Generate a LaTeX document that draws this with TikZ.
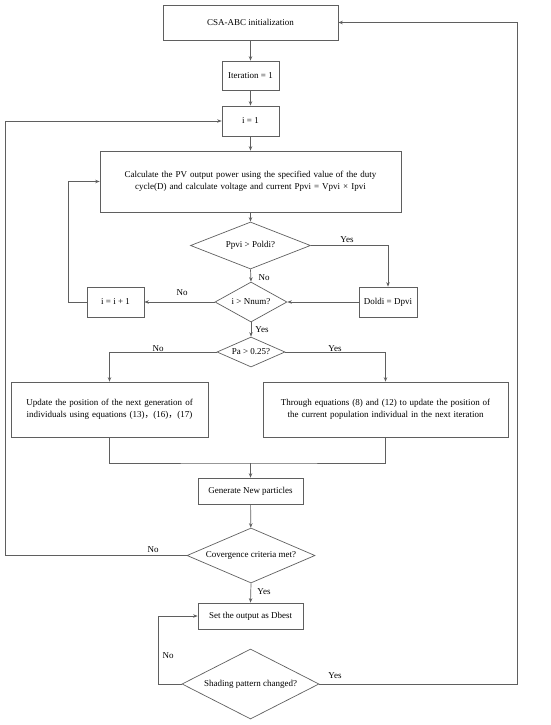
\documentclass[tikz,border=0pt]{standalone}
\usepackage{fontspec}
\setmainfont{Liberation Serif}
\newfontfamily\cjkfont{Noto Sans CJK SC}
\usetikzlibrary{shapes.geometric,arrows.meta,positioning}
\definecolor{ln}{RGB}{95,95,95}
\begin{document}
\begin{tikzpicture}[x=1pt,y=-1pt,
  every node/.style={font=\fontsize{9}{11.5}\selectfont, text=black},
  box/.style={draw=ln, line width=0.7pt, rectangle, inner sep=2pt, align=center},
  dia/.style={draw=ln, line width=0.7pt, diamond, inner sep=0pt, aspect=2, align=center},
  conn/.style={draw=ln, line width=0.7pt},
  arr/.style={conn, -{Stealth[length=4.5pt,width=3.5pt]}},
  lab/.style={inner sep=0pt}
]
\useasboundingbox (0,0) rectangle (550,725);
\node[box, minimum width=175pt, minimum height=35pt] (init) at (250.5,22.5) {CSA-ABC initialization};
\node[box, minimum width=57pt, minimum height=29pt] (iter) at (250.5,75.5) {Iteration = 1};
\node[box, minimum width=57pt, minimum height=30pt] (i1) at (250.5,121) {i = 1};
\node[box, minimum width=301pt, minimum height=61pt, text width=290pt] (calc) at (250.5,181.5) {Calculate the PV output power using the specified value of the duty\\cycle(D) and calculate voltage and current Ppvi = Vpvi × Ipvi};
\node[dia, minimum width=120pt, minimum height=47pt] (ppvi) at (250.5,245.5) {Ppvi > Poldi?};
\node[box, minimum width=58pt, minimum height=30pt] (doldi) at (388,302) {Doldi = Dpvi};
\node[dia, minimum width=72pt, minimum height=40pt] (nnum) at (251,302) {i > Nnum?};
\node[box, minimum width=57pt, minimum height=30pt] (inc) at (115.5,302) {i = i + 1};
\node[dia, minimum width=68pt, minimum height=30pt] (pa) at (251,352) {Pa > 0.25?};
\node[box, minimum width=197pt, minimum height=55pt, text width=190pt] (upL) at (109.5,409.5) {Update the position of the next generation of\\individuals using equations (13){\cjkfont ，}(16){\cjkfont ，}(17)};
\node[box, minimum width=245pt, minimum height=55pt, text width=238pt] (upR) at (385.5,409.5) {Through equations (8) and (12) to update the position of\\the current population individual in the next iteration};
\node[box, minimum width=105pt, minimum height=26pt] (gen) at (250.5,491) {Generate New particles};
\node[dia, minimum width=128pt, minimum height=55pt] (conv) at (251,555.5) {Covergence criteria met?};
\node[box, minimum width=105pt, minimum height=26pt] (set) at (250.5,616) {Set the output as Dbest};
\node[dia, minimum width=137pt, minimum height=70pt] (shade) at (250.5,684) {Shading pattern changed?};

\draw[arr] (init) -- (iter);
\draw[arr] (iter) -- (i1);
\draw[arr] (i1) -- (calc);
\draw[arr] (calc) -- (ppvi);
\draw[arr] (ppvi.east) -| (doldi.north);
\node[lab] (ly1) at (347,240) {Yes};
\draw[arr] (ppvi.south) -- (nnum.north);
\node[lab] (ln1) at (264,278) {No};
\draw[arr] (doldi.west) -- (nnum.east);
\draw[arr] (nnum.west) -- (inc.east);
\node[lab] (ln2) at (182,293) {No};
\coordinate (cl) at (68,302);
\draw[arr] (inc.west) -- (cl) |- (calc.west);
\draw[arr] (nnum.south) -- (pa.north);
\node[lab] (ly2) at (262,330) {Yes};
\draw[arr] (pa.west) -| (upL.north);
\node[lab] (ln3) at (158,349) {No};
\draw[arr] (pa.east) -| (upR.north);
\node[lab] (ly3) at (335,349) {Yes};
\coordinate (mg) at (250.5,463);
\draw[conn] (upL.south) |- (mg) -| (upR.south);
\draw[arr] (mg) -- (gen.north);
\draw[arr] (gen) -- (conv);
\coordinate (cv) at (5,555.5);
\draw[arr] (conv.west) -- (cv) |- (i1.west);
\node[lab] (ln4) at (153,550) {No};
\draw[arr] (conv.south) -- (set.north);
\node[lab] (ly4) at (264,592) {Yes};
\coordinate (sl) at (158,684);
\draw[arr] (shade.west) -- (sl) |- (set.west);
\node[lab] (ln5) at (168,656) {No};
\coordinate (sr) at (517,684);
\draw[arr] (shade.east) -- (sr) |- (init.east);
\node[lab] (ly5) at (335,676) {Yes};
\end{tikzpicture}
\end{document}
